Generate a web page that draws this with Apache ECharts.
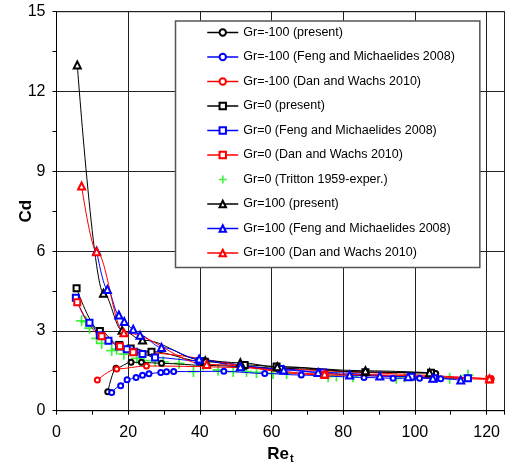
<!DOCTYPE html>
<html>
<head>
<meta charset="utf-8">
<script src="https://cdn.jsdelivr.net/npm/echarts@6/dist/echarts.min.js"></script>
<style>html,body{margin:0;padding:0;background:#fff}#c{width:510px;height:465px}</style>
</head>
<body>
<div id="c"></div>
<script>
// ---- data (Re_t, Cd) ----
const xTicks = [0, 20, 40, 60, 80, 100, 120];
const yTicks = [0, 3, 6, 9, 12, 15];

const grm100Present = [[14.3,0.71],[16.6,1.6],[20.8,1.82],[23.7,1.82],[29.3,1.78],[42,1.7],[52.5,1.66],[61.6,1.6],[86.2,1.45],[105.8,1.4]];
const grm100Feng = [[15.4,0.68],[17.9,0.94],[19.7,1.16],[22.2,1.25],[24.0,1.33],[25.8,1.39],[29.1,1.44],[30.7,1.46],[32.7,1.47],[46.7,1.48],[58.1,1.4],[68.3,1.34],[85.8,1.25],[93.9,1.22],[101.3,1.22],[107.2,1.2]];
const grm100Dan = [[11.4,1.15],[16.8,1.57],[25.1,1.68],[121.3,1.2]];

const gr0Present = [[5.6,4.6],[12.1,3.0],[17.5,2.47],[20.7,2.34],[26.5,2.22],[41.4,1.84],[52.5,1.72],[61.4,1.66],[86.2,1.45],[104.5,1.43]];
const gr0Feng = [[5.4,4.25],[9.2,3.31],[12.1,2.84],[14.5,2.63],[17.5,2.41],[19.6,2.31],[21.7,2.22],[24.0,2.13],[27.5,2.0],[40.0,1.87],[62.5,1.57],[74.4,1.44],[99.0,1.28],[105.3,1.22],[114.8,1.22]];
const gr0Dan = [[5.8,4.08],[12.6,2.8],[17.7,2.42],[21.4,2.2],[74.8,1.34],[120.8,1.17]];
const gr0Tritton = [[7.0,3.38],[8.2,3.35],[9.2,3.1],[11.2,2.72],[12.6,2.53],[15.4,2.26],[16.8,2.31],[18.8,2.13],[22.4,1.97],[24.4,1.88],[27.5,1.88],[29.8,1.84],[34.2,1.78],[38.2,1.47],[40.9,1.72],[45.1,1.53],[49.3,1.47],[53.0,1.47],[55.8,1.44],[60.4,1.4],[64.2,1.4],[75.8,1.28],[78.1,1.3],[82.7,1.28],[94.8,1.22],[97.1,1.28],[109.7,1.22],[114.8,1.34]];

const gr100Present = [[5.8,13.0],[13.1,4.42],[18.3,3.02],[24.0,2.66],[41.5,1.88],[51.3,1.8],[61.6,1.65],[86.2,1.5],[104.1,1.43]];
const gr100Feng = [[11.2,6.0],[14.2,4.56],[17.4,3.6],[18.9,3.35],[21.4,3.06],[23.3,2.84],[29.3,2.38],[39.8,1.94],[51.3,1.65],[63.4,1.53],[73.0,1.44],[81.8,1.34],[90.2,1.3],[98.1,1.28],[105.0,1.22],[112.8,1.15]];
const gr100Dan = [[7.0,8.45],[11.2,5.98],[18.8,2.93],[41.9,1.74],[74.8,1.38],[120.8,1.2]];

const names = [
  'Gr=-100 (present)','Gr=-100 (Feng and Michaelides 2008)','Gr=-100 (Dan and Wachs 2010)',
  'Gr=0 (present)','Gr=0 (Feng and Michaelides 2008)','Gr=0 (Dan and Wachs 2010)',
  'Gr=0 (Tritton 1959-exper.)',
  'Gr=100 (present)','Gr=100 (Feng and Michaelides 2008)','Gr=100 (Dan and Wachs 2010)'
];

const FONT = 'Liberation Sans, Arial, sans-serif';
const plus = 'path://M4.2,0h1.6v4.2h4.2v1.6h-4.2v4.2h-1.6v-4.2h-4.2v-1.6h4.2z';
const plusLegend = 'path://M0,0h0.01v0.01h-0.01z M31,8h0.01v0.01h-0.01z M14.8,0h1.6v3.2h3.2v1.6h-3.2v3.2h-1.6v-3.2h-3.2v-1.6h3.2z';

function lineSeries(name, data, color, symbol, size) {
  return {
    name, type: 'line', data, smooth: 0.35, smoothMonotone: 'x',
    symbol, symbolSize: size, showAllSymbol: true,
    lineStyle: { color, width: 1 },
    itemStyle: { color, borderColor: color, borderWidth: 1 },
    emphasis: { disabled: true }, animation: false
  };
}

const series = [
  lineSeries(names[0], grm100Present, '#000000', 'emptyCircle', 5),
  lineSeries(names[1], grm100Feng, '#0000ff', 'emptyCircle', 5),
  lineSeries(names[2], grm100Dan, '#ff0000', 'emptyCircle', 5),
  lineSeries(names[3], gr0Present, '#000000', 'emptyRect', 6),
  lineSeries(names[4], gr0Feng, '#0000ff', 'emptyRect', 6),
  lineSeries(names[5], gr0Dan, '#ff0000', 'emptyRect', 6),
  { name: names[6], type: 'scatter', data: gr0Tritton, symbol: plus, symbolSize: 11,
    itemStyle: { color: '#11ee11' }, emphasis: { disabled: true }, animation: false },
  lineSeries(names[7], gr100Present, '#000000', 'emptyTriangle', 7),
  lineSeries(names[8], gr100Feng, '#0000ff', 'emptyTriangle', 7),
  lineSeries(names[9], gr100Dan, '#ff0000', 'emptyTriangle', 7)
];

const chart = echarts.init(document.getElementById('c'), null, { renderer: 'canvas' });
chart.setOption({
  animation: false,
  backgroundColor: '#fff',
  grid: { left: 56.5, top: 11.7, right: 5.5, bottom: 54.3, show: true, borderColor: '#000', borderWidth: 1,
    containLabel: false, outerBoundsMode: 'none' },
  legend: {
    orient: 'vertical', left: 175.5, top: 21,
    padding: [5, 25, 8, 31],
    itemWidth: 31, itemHeight: 8, itemGap: 11.5,
    backgroundColor: '#fff', borderColor: '#555', borderWidth: 1.5,
    lineStyle: { width: 1.5 },
    itemStyle: { borderWidth: 1 },
    textStyle: { fontFamily: FONT, fontSize: 12.5, color: '#000' },
    data: names.map((n, i) => i === 6 ? { name: n, icon: plusLegend } : n)
  },
  xAxis: {
    type: 'value', min: 0, max: 125, interval: 20,
    name: '{a|Re}{b|t}', nameLocation: 'middle', nameGap: 34, nameMoveOverlap: false,
    nameTextStyle: { rich: {
      a: { fontFamily: FONT, fontSize: 17, fontWeight: 'bold', color: '#000' },
      b: { fontFamily: FONT, fontSize: 11, fontWeight: 'bold', color: '#000', verticalAlign: 'bottom', padding: [9, 0, 0, 1] }
    } },
    axisLine: { lineStyle: { color: '#000', width: 1 } },
    axisTick: { length: 4, lineStyle: { color: '#000' } },
    minorTick: { show: true, splitNumber: 2, length: 4, lineStyle: { color: '#000' } },
    splitLine: { show: true, lineStyle: { color: '#222', width: 1 } },
    axisLabel: { fontFamily: FONT, fontSize: 16, color: '#000', margin: 14,
      formatter: v => xTicks.indexOf(v) >= 0 ? String(v) : '' }
  },
  yAxis: {
    type: 'value', min: 0, max: 15, interval: 3,
    name: 'Cd', nameLocation: 'middle', nameGap: 22, nameRotate: 90, nameMoveOverlap: false,
    nameTextStyle: { fontFamily: FONT, fontSize: 17, fontWeight: 'bold', color: '#000' },
    axisLine: { show: true, lineStyle: { color: '#000', width: 1 } },
    axisTick: { show: true, length: 4, lineStyle: { color: '#000' } },
    minorTick: { show: true, splitNumber: 2, length: 4, lineStyle: { color: '#000' } },
    splitLine: { show: true, lineStyle: { color: '#222', width: 1 } },
    axisLabel: { fontFamily: FONT, fontSize: 16, color: '#000', margin: 11,
      formatter: v => yTicks.indexOf(v) >= 0 ? String(v) : '' }
  },
  series
});
</script>
</body>
</html>
